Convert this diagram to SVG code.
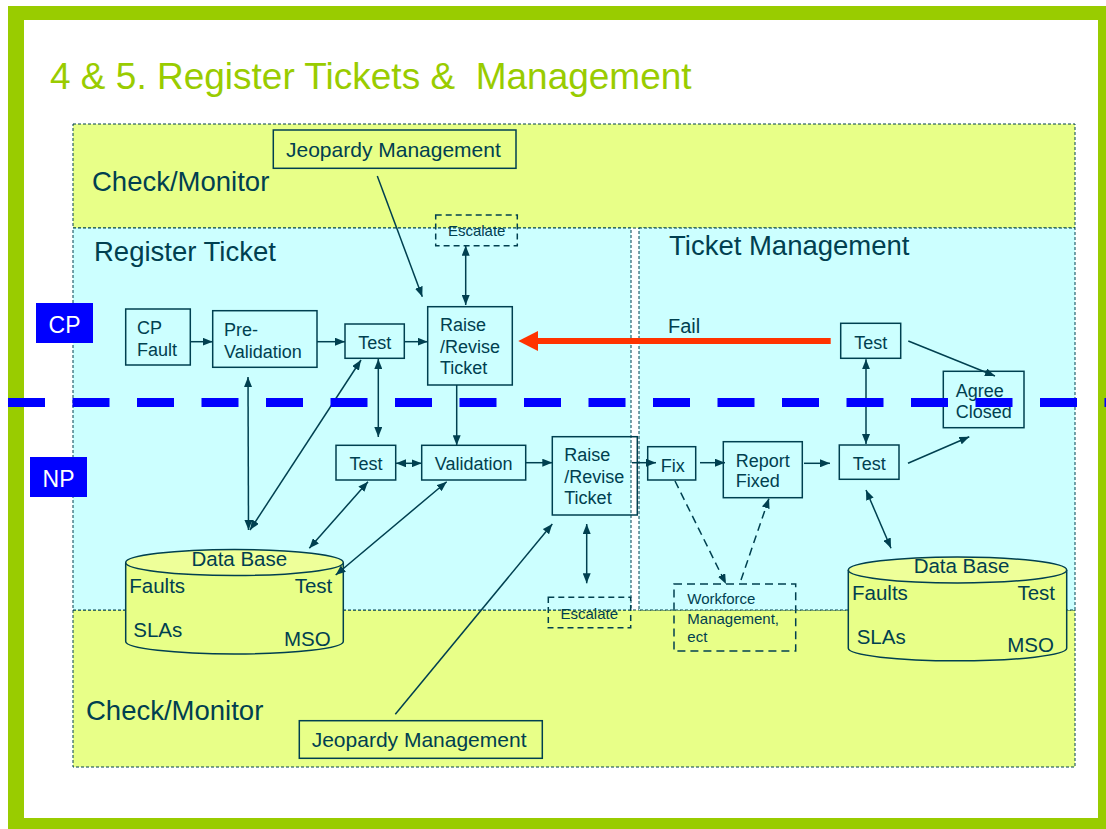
<svg xmlns="http://www.w3.org/2000/svg" width="1106" height="829" viewBox="0 0 1106 829">
<defs>
<style>
text{font-family:"Liberation Sans",Arial,sans-serif;fill:#004050}
.region{stroke:#004050;stroke-width:1;stroke-dasharray:3 2}
.yel{fill:#e8ff88}
.blu{fill:#ccffff}
.box{fill:none;stroke:#004050;stroke-width:1.5}
.dbox{fill:none;stroke:#004050;stroke-width:1.5;stroke-dasharray:6 4}
.n{font-size:18px}
.big{font-size:27.5px}
.db{font-size:20.5px}
.sm{font-size:15px}
.c{stroke:#004050;stroke-width:1.5;fill:none}
.one{marker-end:url(#ah)}
.two{marker-start:url(#ah);marker-end:url(#ah)}
.dash{stroke-dasharray:8 5}
</style>
<marker id="ah" viewBox="0 0 10 8" refX="10" refY="4" markerWidth="10" markerHeight="8" orient="auto-start-reverse" markerUnits="userSpaceOnUse"><path d="M0,0L10,4L0,8z" fill="#004050"/></marker>
</defs>

<!-- frame -->
<rect x="8" y="6" width="1098" height="823" fill="#99cc00"/>
<rect x="24" y="20" width="1074" height="798" fill="#ffffff"/>
<text x="50" y="89" style="font-size:37px;fill:#99cc00">4 &amp; 5. Register Tickets &amp;&#160; Management</text>

<!-- regions -->
<g id="regions">
<rect class="region yel" x="73" y="124" width="1002" height="104"/>
<rect class="region yel" x="73" y="610" width="1002" height="157"/>
<rect class="region blu" x="73" y="228" width="558" height="382"/>
<rect class="region blu" x="639" y="228" width="436" height="382"/>
<text class="big" x="92" y="191">Check/Monitor</text>
<text class="big" x="94" y="261">Register Ticket</text>
<text class="big" x="669" y="255">Ticket Management</text>
<text class="big" x="86" y="720">Check/Monitor</text>
</g>

<!-- nodes -->
<g id="jeopardy-top"><rect x="273.3" y="130" width="242.7" height="38.3" fill="#e8ff88" stroke="#004050" stroke-width="1.5"/><text x="286" y="157.3" style="font-size:21px">Jeopardy Management</text></g>
<g id="jeopardy-bottom"><rect x="299.3" y="720.7" width="243" height="37.6" fill="#e8ff88" stroke="#004050" stroke-width="1.5"/><text x="311.7" y="747.3" style="font-size:21px">Jeopardy Management</text></g>
<g id="escalate-top"><rect class="dbox" x="435.7" y="215" width="81.6" height="30.7"/><text class="sm" x="476.7" y="235.7" text-anchor="middle">Escalate</text></g>
<g id="escalate-bottom"><rect class="dbox" x="548.3" y="597.3" width="82.4" height="30.4"/><text class="sm" x="589.3" y="619" text-anchor="middle">Escalate</text></g>
<g id="cp-fault"><rect class="box" x="125.7" y="309" width="64.6" height="56"/><text class="n" x="137" y="334">CP</text><text class="n" x="137" y="356">Fault</text></g>
<g id="pre-validation"><rect class="box" x="212.7" y="310.7" width="104.3" height="56.6"/><text class="n" x="224" y="335.7">Pre-</text><text class="n" x="224" y="357.7">Validation</text></g>
<g id="test-cp"><rect class="box" x="345" y="324" width="59.3" height="34.3"/><text class="n" x="374.7" y="349" text-anchor="middle">Test</text></g>
<g id="raise-cp"><rect class="box" x="427.7" y="306.7" width="84.6" height="78.3"/><text class="n" x="440" y="330.7">Raise</text><text class="n" x="440" y="352.7">/Revise</text><text class="n" x="440" y="374.3">Ticket</text></g>
<g id="test-np"><rect class="box" x="336" y="445.3" width="59.7" height="34.7"/><text class="n" x="365.9" y="470" text-anchor="middle">Test</text></g>
<g id="validation"><rect class="box" x="421.7" y="445.3" width="104" height="34.7"/><text class="n" x="473.7" y="470" text-anchor="middle">Validation</text></g>
<g id="raise-np"><rect class="box" x="552.3" y="436.7" width="85" height="78.3"/><text class="n" x="564.3" y="460.7">Raise</text><text class="n" x="564.3" y="482.7">/Revise</text><text class="n" x="564.3" y="504">Ticket</text></g>
<g id="fix"><rect class="box" x="647.7" y="446.7" width="48" height="33.3"/><text class="n" x="660.7" y="471.7">Fix</text></g>
<g id="report-fixed"><rect class="box" x="723.3" y="441.7" width="79" height="56"/><text class="n" x="735.7" y="466.7">Report</text><text class="n" x="735.7" y="487.3">Fixed</text></g>
<g id="test-tm-cp"><rect class="box" x="840.7" y="323.3" width="60" height="35"/><text class="n" x="870.7" y="349.3" text-anchor="middle">Test</text></g>
<g id="test-tm-np"><rect class="box" x="839.3" y="445" width="59.7" height="34.3"/><text class="n" x="869.2" y="470" text-anchor="middle">Test</text></g>
<g id="agree-closed"><rect class="box" x="943.3" y="371.3" width="80.7" height="56.4"/><text class="n" x="955.7" y="396.7">Agree</text><text class="n" x="955.7" y="418.3">Closed</text></g>
<g id="workforce"><rect x="674" y="584" width="121.7" height="67" fill="none" stroke="#004050" stroke-width="1.5" stroke-dasharray="8 5"/><text class="sm" x="687.3" y="604.3">Workforce</text><text class="sm" x="687.3" y="624.3">Management,</text><text class="sm" x="687.3" y="641.7">ect</text></g>
<g id="database-left">
<path d="M125.7,562.5 L125.7,641.5 A108.8,12.5 0 0 0 343.3,641.5 L343.3,562.5" fill="#e8ff88" stroke="#004050" stroke-width="1.5"/>
<ellipse cx="234.5" cy="562.5" rx="108.8" ry="13" fill="#eeff99" stroke="#004050" stroke-width="1.5"/>
<text class="db" x="239.3" y="566" text-anchor="middle">Data Base</text>
<text class="db" x="129.3" y="593.3">Faults</text>
<text class="db" x="332.3" y="593.3" text-anchor="end">Test</text>
<text class="db" x="133.3" y="637.3">SLAs</text>
<text class="db" x="330.7" y="645.7" text-anchor="end">MSO</text>
</g>
<g id="database-right">
<path d="M848.3,570 L848.3,648.3 A109.2,12.5 0 0 0 1066.7,648.3 L1066.7,570" fill="#e8ff88" stroke="#004050" stroke-width="1.5"/>
<ellipse cx="957.5" cy="570" rx="109.2" ry="13" fill="#eeff99" stroke="#004050" stroke-width="1.5"/>
<text class="db" x="961.5" y="573" text-anchor="middle">Data Base</text>
<text class="db" x="852" y="600">Faults</text>
<text class="db" x="1055" y="600" text-anchor="end">Test</text>
<text class="db" x="856.7" y="644">SLAs</text>
<text class="db" x="1054" y="651.7" text-anchor="end">MSO</text>
</g>

<!-- connectors -->
<g id="connectors">
<line class="c one" x1="190" y1="341.7" x2="212.7" y2="341.7"/>
<line class="c one" x1="317" y1="341.7" x2="345" y2="341.7"/>
<line class="c one" x1="404.3" y1="341.7" x2="427.7" y2="341.7"/>
<line class="c one" x1="377.3" y1="176" x2="422.3" y2="296.7"/>
<line class="c two" x1="465.7" y1="245.7" x2="465.7" y2="305"/>
<line class="c one" x1="456.7" y1="385" x2="456.7" y2="445.3"/>
<line class="c two" x1="378.3" y1="359" x2="378.3" y2="437"/>
<line class="c two" x1="396" y1="463.3" x2="421.7" y2="463.3"/>
<line class="c two" x1="248" y1="377" x2="248.5" y2="530"/>
<line class="c two" x1="361" y1="360" x2="250" y2="530"/>
<line class="c two" x1="368" y1="481.7" x2="309.3" y2="548.3"/>
<line class="c two" x1="446.7" y1="481.7" x2="335.7" y2="575"/>
<line class="c one" x1="525.7" y1="462.7" x2="552.3" y2="462.7"/>
<line class="c two" x1="586.7" y1="524" x2="586.7" y2="583.3"/>
<line class="c one" x1="395.3" y1="714.3" x2="552.3" y2="524"/>
<line class="c one" x1="632" y1="462.7" x2="656" y2="462.7"/>
<line class="c one" x1="700" y1="462.7" x2="725" y2="462.7"/>
<line class="c one" x1="804" y1="463.3" x2="830" y2="463.3"/>
<line class="c two" x1="866" y1="359.3" x2="866" y2="444"/>
<line class="c one" x1="908.3" y1="341" x2="995" y2="376"/>
<line class="c one" x1="908" y1="463.3" x2="969.3" y2="436.7"/>
<line class="c two" x1="866" y1="490" x2="891" y2="548.3"/>
<line class="c one dash" x1="675" y1="481" x2="726" y2="584"/>
<line class="c one dash" x1="741" y1="580" x2="769" y2="498.3"/>
<line x1="830.7" y1="341" x2="535" y2="341" stroke="#ff3300" stroke-width="6"/>
<polygon points="518.3,341 538,331 538,351" fill="#ff3300"/>
<text x="668" y="332.7" style="font-size:20px">Fail</text>
</g>

<!-- CP / NP divider -->
<g id="cp-np">
<line x1="8" y1="402.5" x2="1106" y2="402.5" stroke="#0000ff" stroke-width="9" stroke-dasharray="37 27.5"/>
<rect x="36" y="303" width="57" height="40" fill="#0000ff"/>
<text x="64.5" y="332.7" text-anchor="middle" style="font-size:23px;fill:#ffffff">CP</text>
<rect x="30" y="457" width="57" height="40" fill="#0000ff"/>
<text x="58.5" y="486.7" text-anchor="middle" style="font-size:23px;fill:#ffffff">NP</text>
</g>
</svg>
